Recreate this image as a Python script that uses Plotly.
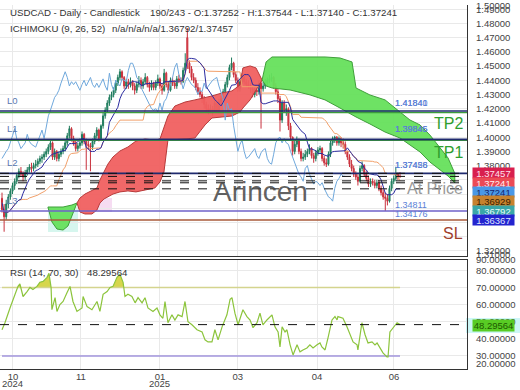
import plotly.graph_objects as go
import pandas as pd

FONT = "Liberation Sans, Arial, sans-serif"

# ---------------- texts ----------------
symbol_title = "USDCAD - Daily - Candlestick"
cursor_text = "190/243 - O:1.37252 - H:1.37544 - L:1.37140 - C:1.37241"
ichimoku_title = "ICHIMOKU (9, 26, 52)"
ichimoku_values = "n/a/n/a/n/a/1.36792/1.37457"
rsi_title = "RSI (14, 70, 30)"
rsi_last = 48.29564

# ---------------- OHLC (pips, 1/10000) ----------------
open_pips = [13570,13490,13440,13530,13580,13620,13660,13690,13730,13760,
13740,13720,13750,13770,13790,13780,13800,13810,13830,13850,
13860,13880,13900,13930,13960,13860,13900,13850,13880,13900,
13920,13960,14010,14060,13990,13960,13920,13940,13960,14020,
13970,13950,13940,13930,13970,14010,14050,13990,14080,14150,
14190,14240,14280,14300,14330,14380,14420,14460,14420,14360,
14390,14370,14390,14360,14330,14370,14400,14360,14390,14420,
14370,14350,14380,14350,14380,14410,14360,14330,14450,14370,
14330,14400,14380,14360,14410,14400,14390,14470,14700,14520,
14480,14420,14400,14350,14320,14300,14270,14230,14200,14190,
14200,14180,14240,14190,14250,14270,14320,14370,14420,14490,
14520,14440,14400,14340,14390,14420,14390,14370,14360,14340,
14300,14330,14320,14380,14340,14360,14380,14400,14410,14420,
14360,14320,14270,14120,14240,14190,14200,14080,14000,13900,
13950,13980,13900,13850,13860,13880,13900,13920,13870,13850,
13890,13910,13920,13850,13820,13810,13880,13960,13990,14000,
13960,13990,13960,13950,13900,13860,13810,13780,13740,13720,
13690,13780,13800,13740,13710,13670,13690,13680,13660,13680,
13640,13610,13580,13570,13550,13640,13690,13710,13740,13725.2]

high_pips = [13610,13530,13560,13600,13640,13680,13710,13750,13780,13790,
13760,13770,13790,13810,13820,13820,13840,13850,13870,13880,
13900,13920,13950,13980,13970,13920,13910,13900,13920,13940,
13980,14030,14080,14070,14010,13980,13960,13990,14040,14030,
13990,13980,13960,13990,14030,14070,14060,14090,14170,14210,
14260,14300,14320,14350,14400,14440,14480,14470,14430,14410,
14410,14420,14400,14380,14390,14430,14420,14410,14450,14430,
14390,14400,14390,14400,14440,14420,14380,14480,14460,14390,
14420,14420,14400,14430,14440,14420,14490,14590,14768,14540,
14500,14450,14420,14380,14350,14320,14290,14250,14230,14230,
14220,14260,14250,14270,14290,14340,14390,14440,14510,14560,
14530,14460,14420,14410,14450,14430,14410,14400,14380,14360,
14350,14360,14400,14400,14390,14410,14420,14440,14450,14430,
14380,14340,14290,14260,14260,14230,14210,14100,14005,13980,
14005,13990,13920,13890,13910,13920,13950,13930,13890,13910,
13930,13940,13930,13870,13850,13900,13980,14005,14010,14008,
14005,14000,13990,13970,13905,13880,13840,13800,13760,13740,
13800,13830,13810,13760,13730,13710,13710,13700,13700,13700,
13660,13630,13610,13600,13660,13710,13730,13792,13750,13754.4]

low_pips = [13470,13335,13420,13500,13560,13600,13630,13670,13710,13720,
13690,13700,13730,13750,13750,13760,13780,13790,13810,13820,
13840,13860,13880,13910,13840,13840,13830,13830,13860,13880,
13900,13940,13990,13970,13940,13900,13900,13920,13940,13950,
13770,13910,13760,13910,13950,13990,13970,13980,14060,14130,
14170,14220,14260,14280,14310,14360,14400,14400,14340,14340,
14340,14350,14330,14300,14310,14350,14340,14340,14370,14350,
14320,14330,14330,14330,14360,14340,14300,14320,14350,14310,
14320,14360,14340,14340,14380,14370,14380,14450,14480,14450,
14400,14380,14330,14300,14280,14240,14200,14170,14160,14170,
14150,14170,14170,14180,14230,14260,14300,14350,14400,14470,
14420,14380,14320,14320,14370,14370,14350,14340,14310,14280,
14280,14290,14300,14060,14320,14340,14360,14380,14390,14340,
14300,14240,14040,14100,14170,14150,14050,13980,13870,13880,
13930,13880,13830,13830,13840,13860,13880,13850,13820,13830,
13870,13890,13830,13800,13790,13800,13860,13940,13960,13940,
13940,13930,13920,13880,13840,13790,13760,13720,13700,13660,
13680,13760,13720,13690,13650,13650,13660,13640,13640,13620,
13590,13560,13481,13520,13540,13620,13670,13690,13700,13714.0]

close_pips = [13490,13440,13530,13580,13620,13660,13690,13730,13760,13740,
13720,13750,13770,13790,13780,13800,13810,13830,13850,13860,
13880,13900,13930,13960,13860,13900,13850,13880,13900,13920,
13960,14010,14060,13990,13960,13920,13940,13960,14020,13970,
13950,13940,13930,13970,14010,14050,13990,14080,14150,14190,
14240,14280,14300,14330,14380,14420,14460,14420,14360,14390,
14370,14390,14360,14330,14370,14400,14360,14390,14420,14370,
14350,14380,14350,14380,14410,14360,14330,14450,14370,14330,
14400,14380,14360,14410,14400,14390,14470,14520,14520,14480,
14420,14400,14350,14320,14300,14270,14230,14200,14190,14200,
14180,14240,14190,14250,14270,14320,14370,14420,14490,14520,
14440,14400,14340,14390,14420,14390,14370,14360,14340,14300,
14330,14320,14380,14340,14360,14380,14400,14410,14420,14360,
14320,14270,14120,14240,14190,14200,14080,14000,13900,13950,
13980,13900,13850,13860,13880,13900,13920,13870,13850,13890,
13910,13920,13850,13820,13810,13880,13960,13990,14000,13960,
13990,13960,13950,13900,13860,13810,13780,13740,13720,13690,
13780,13800,13740,13710,13670,13690,13680,13660,13680,13640,
13610,13580,13570,13550,13640,13690,13710,13740,13725,13724.1]

# ---------------- Ichimoku cloud (bar index incl. 26 ahead) ----------------
cloud_bar = [21.8,23.7,26.1,29.0,31.3,33.2,35.6,
37.0,39.4,42.7,45.1,46.5,48.4,50.3,52.7,56.0,59.8,63.6,67.9,72.6,75.0,76.9,78.8,82.1,86.9,91.6,96.4,
99.7,104.5,109.2,113.0,114.4,117.8,120.6,123.5,
125.4,128.2,136.8,146.3,153.4,160.5,166.2,168.1,174.7,181.9,189.0,193.7,198.5,203.2,208.0,211.8,215.0]
span_a = [1.3509,1.3404,1.3354,1.3347,1.3375,1.3446,1.3537,
1.3572,1.3600,1.3622,1.3643,1.3699,1.3755,1.3811,1.3861,1.3903,1.3931,1.3973,1.3987,1.3980,1.3987,1.4065,1.4149,1.4219,1.4247,1.4262,1.4276,
1.4290,1.4311,1.4325,1.4367,1.4487,1.4501,1.4487,1.4402,
1.4360,1.4346,1.4332,1.4297,1.4262,1.4205,1.4156,1.4142,1.4093,1.4036,1.3994,1.3945,1.3896,1.3825,1.3769,1.3727,1.36792]
span_b = [1.3509,1.3509,1.3509,1.3509,1.3516,1.3523,1.3537,
1.3474,1.3460,1.3460,1.3488,1.3537,1.3565,1.3579,1.3600,1.3615,1.3622,1.3615,1.3629,1.3643,1.3685,1.3755,1.3980,1.3980,1.3987,1.3994,1.4086,
1.4135,1.4142,1.4149,1.4177,1.4205,1.4262,1.4332,1.4402,
1.4529,1.4564,1.4564,1.4564,1.4564,1.4557,1.4529,1.4346,1.4297,1.4262,1.4177,1.4121,1.4086,1.4015,1.3924,1.3854,1.37457]

# ---------------- RSI ----------------
rsi_bar = [0,1.4,3.8,6.2,7.6,8.5,10,11.9,13.3,14.7,16.6,18,19.5,21.4,22.3,23.3,23.7,25.2,26.1,27.5,
29,30.9,32.3,33.7,35.6,38,38.5,40.4,42.7,45.1,46.5,48,49.9,51.3,52.7,54.6,56,57.5,58.4,59.8,
61.7,63.2,64.6,66.5,67.9,69.3,71.7,73.6,75,76.4,77.4,78.8,80.7,82.1,83.6,85.5,86.9,88.3,90.2,92.6,
95,96.4,97.8,99.7,101.1,102.6,104.5,106.8,108.3,109.2,110.6,112.1,114.4,116.3,117.8,119.2,120.1,121.1,122.5,123.9,
125.8,128.2,129.6,131.1,132,133,134.4,135.3,136.8,138.2,140.1,141.5,142.9,144.8,146.2,147.7,149.6,151,151.9,153.4,
154.8,156.7,158.1,159.1,159.5,161.9,163.8,165.2,166.7,168.6,169,170.9,172.4,173.8,175.7,177.1,178.1,179.5,180.9,182.8,
183.3,184.2,185.7,187.6,189]
rsi_val = [45.3,49.4,58,66,70.6,72,64.7,67.6,70,68.8,70.6,73,73.5,75.9,78.2,70,57,64,56,60,
61.8,67,70.6,61.8,56,58,64.7,58.8,57,61.8,56,66,67.6,70,70.6,75.9,77.6,73,64.7,66,
64.7,61,64,61,64,58,56,58,54,52,61.8,49.4,54,51,54,53,61.8,50,48.2,45.3,
44,39.4,38.2,38.2,45.3,39.4,47,54,63,64,55,48.2,57,53,51,46.5,48.2,49.4,55,48.2,
51,54,47,44,35.3,47,44,45.3,36.5,30.6,36.5,32.4,33.5,34.7,36.5,34.7,36.5,37.6,35.3,33.5,
40.6,51,53,51,53,52,47,42.4,38.2,36.5,33.5,49.4,42.4,37.6,38.2,36.5,37.6,34.7,31.8,29.4,
29.4,44,46.5,49.4,rsi_last]
rsi_upper, rsi_lower = 70, 30

# ---------------- levels ----------------
level_names = ["L0", "L1", "L2", "L3"]
level_values = [1.41841, 1.39846, 1.37456, 1.34811]
level_text_a = ["1.41840", "1.39845", "1.37428", "1.34811"]
level_text_b = ["1.41841", "1.39846", "1.37456", "1.34811"]
tp2_value, tp1_value = 1.4172, 1.3978
sl_value = 1.34176
badge_values = [1.37457, 1.37241, 1.37241, 1.36929, 1.36792, 1.36367]
badge_bg = ["#d81f4e", "#ec4a55", "#4a98e6", "#c7822f", "#3aa7a8", "#2323cf"]
badge_fg = ["#ffe0ea", "#fff0f0", "#16246e", "#3a1e00", "#e6ffff", "#dfe4ff"]

x_tick_bars = [5.2, 37.5, 75, 112, 149.6, 186.1]
x_tick_labels = ["10", "11", "01", "03", "04", "06"]
year_bars = [5.2, 75]
year_labels = ["2024", "2025"]
price_ticks = [1.32,1.33,1.34,1.35,1.36,1.37,1.38,1.39,1.40,1.41,1.42,1.43,1.44,1.45,1.46,1.47,1.48,1.49]
hidden_price_ticks = [1.33,1.34,1.35,1.36,1.37]
rsi_ticks = [30, 40, 50, 60, 70, 80]

# ---------------- derived ----------------
bars = list(range(len(close_pips)))
o = [v / 10000 for v in open_pips]
h = [v / 10000 for v in high_pips]
l = [v / 10000 for v in low_pips]
c = [v / 10000 for v in close_pips]
df = pd.DataFrame({"h": h, "l": l, "c": c})
tenkan = (df.h.rolling(9, min_periods=1).max() + df.l.rolling(9, min_periods=1).min()) / 2
kijun = (df.h.rolling(26, min_periods=1).max() + df.l.rolling(26, min_periods=1).min()) / 2
chikou_x = [b - 26 for b in bars[26:]]
chikou_y = c[26:]

H_PX = 364.0
W_PX = 467.0
def py(ypx):
    return (369.0 - ypx) / H_PX
def px(xpx):
    return xpx / W_PX

fig = go.Figure()

# cloud segments split at crossings
cross_idx = [i for i in range(len(cloud_bar)) if abs(span_a[i] - span_b[i]) < 1e-9]
bounds = sorted(set([0] + cross_idx + [len(cloud_bar) - 1]))
for s, e in zip(bounds[:-1], bounds[1:]):
    xs = cloud_bar[s:e + 1]
    a = span_a[s:e + 1]
    b = span_b[s:e + 1]
    mid = (s + e) // 2
    green = span_b[mid] >= span_a[mid]
    fillc = "rgba(102,224,92,0.95)" if green else "rgba(240,96,96,0.95)"
    edge = "#3f9f3a" if green else "#b83a3a"
    fig.add_trace(go.Scatter(x=xs + xs[::-1], y=a + b[::-1], fill="toself", fillcolor=fillc,
                             mode="lines", line=dict(color=edge, width=1),
                             xaxis="x", yaxis="y", hoverinfo="skip", showlegend=False))

fig.add_trace(go.Candlestick(x=bars, open=o, high=h, low=l, close=c, xaxis="x", yaxis="y",
                             increasing=dict(line=dict(color="#1f7a5c", width=1), fillcolor="#27a079"),
                             decreasing=dict(line=dict(color="#c8303c", width=1), fillcolor="#e8464f"),
                             whiskerwidth=0, hoverinfo="skip", showlegend=False))

fig.add_trace(go.Scatter(x=chikou_x, y=chikou_y, mode="lines", line=dict(color="#6fa8dc", width=1),
                         xaxis="x", yaxis="y", hoverinfo="skip", showlegend=False))
fig.add_trace(go.Scatter(x=bars, y=list(kijun), mode="lines", line=dict(color="#f2a06a", width=1),
                         xaxis="x", yaxis="y", hoverinfo="skip", showlegend=False))
fig.add_trace(go.Scatter(x=bars, y=list(tenkan), mode="lines", line=dict(color="#2b2ba0", width=1),
                         xaxis="x", yaxis="y", hoverinfo="skip", showlegend=False))

# RSI overbought fill
ob_x, ob_y = [], []
for i in range(len(rsi_bar)):
    if i > 0:
        v0, v1 = rsi_val[i - 1], rsi_val[i]
        if (v0 - rsi_upper) * (v1 - rsi_upper) < 0:
            t = (rsi_upper - v0) / (v1 - v0)
            ob_x.append(rsi_bar[i - 1] + t * (rsi_bar[i] - rsi_bar[i - 1]))
            ob_y.append(rsi_upper)
    ob_x.append(rsi_bar[i])
    ob_y.append(max(rsi_val[i], rsi_upper))
fig.add_trace(go.Scatter(x=ob_x, y=[rsi_upper] * len(ob_x), mode="lines", line=dict(width=0),
                         xaxis="x2", yaxis="y2", hoverinfo="skip", showlegend=False))
fig.add_trace(go.Scatter(x=ob_x, y=ob_y, mode="lines", line=dict(width=0), fill="tonexty",
                         fillcolor="#d6d64c", xaxis="x2", yaxis="y2", hoverinfo="skip", showlegend=False))
fig.add_trace(go.Scatter(x=[rsi_bar[0], rsi_bar[-1]], y=[rsi_upper, rsi_upper], mode="lines",
                         line=dict(color="#d4d48e", width=1.5), xaxis="x2", yaxis="y2",
                         hoverinfo="skip", showlegend=False))
fig.add_trace(go.Scatter(x=[rsi_bar[0], rsi_bar[-1]], y=[rsi_lower, rsi_lower], mode="lines",
                         line=dict(color="#a294dc", width=1.5), xaxis="x2", yaxis="y2",
                         hoverinfo="skip", showlegend=False))
fig.add_trace(go.Scatter(x=rsi_bar, y=rsi_val, mode="lines", line=dict(color="#8cc43c", width=1.2),
                         xaxis="x2", yaxis="y2", hoverinfo="skip", showlegend=False))

shapes = []
def hline(v, color, width, dash="solid", yref="y"):
    shapes.append(dict(type="line", xref="paper", x0=0, x1=1, yref=yref, y0=v, y1=v,
                       line=dict(color=color, width=width, dash=dash)))

# background highlight boxes
shapes.append(dict(type="rect", xref="paper", yref="paper", x0=px(48), x1=px(78), y0=py(232), y1=py(207),
                   fillcolor="#d6f6ee", line=dict(width=0), layer="below"))
shapes.append(dict(type="rect", xref="paper", yref="paper", x0=px(95), x1=px(112), y0=py(212), y1=py(198),
                   fillcolor="#f6dcf2", line=dict(width=0), layer="below"))

hline(tp2_value, "#3c9c3c", 1.2)
hline(tp1_value, "#3c9c3c", 1.2)
for v in level_values[:3]:
    hline(v, "#1f2a6e", 1.6)
hline(level_values[3], "#6f62c8", 1.6)
hline(sl_value, "#a85a3a", 1.4)
for v in sorted(set(badge_values), reverse=True):
    hline(v, "#111111", 1, dash="dash")
hline(rsi_last, "#111111", 1, dash="dash", yref="y2")
# RSI badge halo
shapes.append(dict(type="rect", xref="paper", yref="paper", x0=px(466), x1=px(520), y0=py(333), y1=py(318),
                   fillcolor="#cdf6f6", line=dict(width=0), layer="below"))

ann = []
def text(x, y, s, size=10, color="#333", xanchor="left", yanchor="middle", bg=None, w=None, hgt=None, xref="paper"):
    d = dict(xref=xref, yref="paper", x=x, y=y, text=s, showarrow=False, xanchor=xanchor,
             yanchor=yanchor, font=dict(family=FONT, size=size, color=color))
    if bg:
        d.update(bgcolor=bg, borderpad=0, width=w, height=hgt, align="center")
    ann.append(d)

text(px(8), py(12), symbol_title, 9.7, "#333")
text(px(148), py(12), cursor_text, 9.7, "#333")
text(px(8), py(29), ichimoku_title, 9.7, "#333")
text(px(110), py(29), ichimoku_values, 9.7, "#333")
text(px(8), py(272), rsi_title, 9.7, "#333")
text(px(85), py(272), f"{rsi_last:.5f}", 9.7, "#333")

text(px(260), py(192), "Arincen", 28, "rgba(70,70,70,0.85)", xanchor="center")
text(px(405), py(188), "At Price", 16, "#9a9a9a")
text(px(432), py(124), "TP2", 16, "#2e9e2e")
text(px(432), py(152), "TP1", 16, "#2e9e2e")
text(px(441), py(233), "SL", 16, "#a0402e")

label_y = [101, 128, 162, 200]
for name, yy in zip(level_names, label_y):
    text(px(5), py(yy), name, 9.5, "#5a78b0")
val_y = [103, 129, 165, 205]
for ta, tb, yy in zip(level_text_a, level_text_b, val_y):
    text(px(393), py(yy), ta, 9, "#5b7fd6")
    if tb != ta:
        text(px(393), py(yy), tb, 9, "#5b7fd6")
text(px(393), py(214), f"{sl_value:.5f}", 9, "#5b7fd6")

badge_y = [173, 183, 192, 201, 211, 220]
for v, bg, fg, yy in zip(badge_values, badge_bg, badge_fg, badge_y):
    text(px(472), py(yy), f"{v:.5f}", 9.5, fg, bg=bg, w=41, hgt=10)
text(px(472), py(325), f"{rsi_last:.5f}", 9.5, "#1d5a00", bg="#58cc24", w=41, hgt=11)

# clamped edge tick labels
text(px(474), py(6), "1.50000", 9.5, "#444")
text(px(474), py(254), "1.31000", 9.5, "#444")
text(px(474), py(259), "90.00000", 9.5, "#444")
text(px(474), py(363), "20.00000", 9.5, "#444")

# year labels under the month ticks
for yb, yl in zip(year_bars, year_labels):
    text(yb, py(383.5), yl, 9.5, "#444", xanchor="center", xref="x2")

grid = "#e9e9e9"
xr = [-0.95, 220.8]
fig.update_layout(
    width=520, height=390, margin=dict(l=0, r=53, t=5, b=21),
    paper_bgcolor="white", plot_bgcolor="white", showlegend=False,
    font=dict(family=FONT, size=9.5, color="#444"),
    xaxis=dict(domain=[0, 1], range=xr, anchor="y", tickvals=x_tick_bars, showticklabels=False,
               showgrid=True, gridcolor=grid, zeroline=False, showline=True, linecolor="#333",
               linewidth=1.2, ticks="", rangeslider=dict(visible=False), automargin=False),
    yaxis=dict(domain=[py(256), 1], range=[1.31644, 1.49295], side="right", anchor="x",
               tickvals=price_ticks,
               ticktext=["" if t in hidden_price_ticks else f"{t:.5f}" for t in price_ticks],
               showgrid=True, gridcolor=grid, zeroline=False, showline=True, linecolor="#333",
               linewidth=1.2, ticks="", ticklabelstandoff=6, automargin=False),
    xaxis2=dict(domain=[0, 1], range=xr, anchor="y2", matches="x", tickvals=x_tick_bars,
                ticktext=x_tick_labels, showgrid=True, gridcolor=grid, zeroline=False,
                showline=True, mirror=True, linecolor="#333", linewidth=1.2, ticks="",
                ticklabelstandoff=-2, tickfont=dict(size=9.5, color="#444"), automargin=False),
    yaxis2=dict(domain=[0, py(260)], range=[22.4, 86], side="right", anchor="x2",
                tickvals=rsi_ticks, ticktext=[f"{t:.5f}" for t in rsi_ticks],
                showgrid=True, gridcolor=grid, zeroline=False, showline=True, linecolor="#333",
                linewidth=1.2, ticks="", ticklabelstandoff=6, automargin=False),
    shapes=shapes, annotations=ann,
)

fig.write_html("out.html", config={"displayModeBar": False},
               post_script="document.body.style.margin='0';document.body.style.padding='0';")
